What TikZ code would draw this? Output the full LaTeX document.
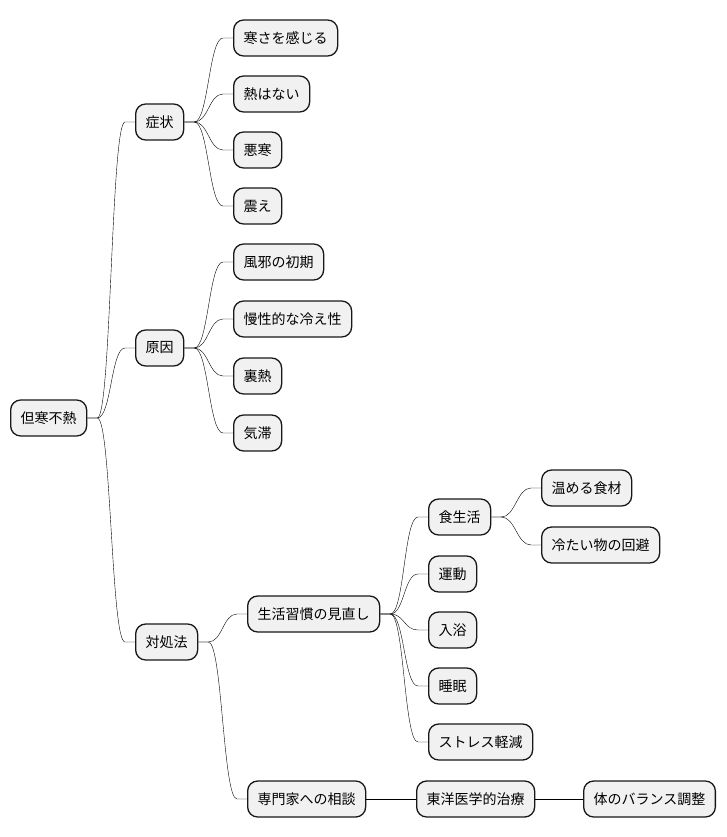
\documentclass[tikz,border=0pt]{standalone}
\usepackage{fontspec}
\newfontfamily\jp{Noto Sans CJK JP}
\definecolor{boxfill}{HTML}{F1F1F1}
\definecolor{boxline}{HTML}{181818}
\begin{document}
\begin{tikzpicture}[x=1pt, y=-1pt,
  box/.style={font={\jp\fontsize{14}{16}\selectfont},draw=boxline,fill=boxfill,rectangle,rounded corners=10pt,minimum height=36pt,inner xsep=10pt,line width=1.3pt,anchor=west},
  link/.style={draw=boxline,line width=1pt,to path={-- ++(10,0) .. controls +(14,0) and +(-14,0) .. ([xshift=-10pt]\tikztotarget) -- (\tikztotarget)}}]

\useasboundingbox (0,0) rectangle (726,837);

\node[box] (0) at (10,418) {但寒不熱};

\node[box] (1) at (135,122) {症状};
\node[box] (11) at (233,38) {寒さを感じる};
\node[box] (12) at (233,94) {熱はない};
\node[box] (13) at (233,150) {悪寒};
\node[box] (14) at (233,206) {震え};

\node[box] (2) at (135,348) {原因};
\node[box] (21) at (233,262) {風邪の初期};
\node[box] (22) at (233,319) {慢性的な冷え性};
\node[box] (23) at (233,376) {裏熱};
\node[box] (24) at (233,433) {気滞};

\node[box] (3) at (135,642) {対処法};
\node[box] (31) at (247,614) {生活習慣の見直し};
\node[box] (311) at (428,517) {食生活};
\node[box] (3111) at (541,488) {温める食材};
\node[box] (3112) at (541,545) {冷たい物の回避};
\node[box] (312) at (428,574) {運動};
\node[box] (313) at (428,630) {入浴};
\node[box] (314) at (428,686) {睡眠};
\node[box] (315) at (428,742) {ストレス軽減};
\node[box] (32) at (247,799) {専門家への相談};
\node[box] (321) at (416,799) {東洋医学的治療};
\node[box] (3211) at (583,799) {体のバランス調整};

\draw (0.east) to[link] (1.west);
\draw (0.east) to[link] (2.west);
\draw (0.east) to[link] (3.west);

\draw (1.east) to[link] (11.west);
\draw (1.east) to[link] (12.west);
\draw (1.east) to[link] (13.west);
\draw (1.east) to[link] (14.west);

\draw (2.east) to[link] (21.west);
\draw (2.east) to[link] (22.west);
\draw (2.east) to[link] (23.west);
\draw (2.east) to[link] (24.west);

\draw (3.east) to[link] (31.west);
\draw (3.east) to[link] (32.west);
\draw (31.east) to[link] (311.west);
\draw (31.east) to[link] (312.west);
\draw (31.east) to[link] (313.west);
\draw (31.east) to[link] (314.west);
\draw (31.east) to[link] (315.west);
\draw (311.east) to[link] (3111.west);
\draw (311.east) to[link] (3112.west);
\draw (32.east) to[link] (321.west);
\draw (321.east) to[link] (3211.west);

\end{tikzpicture}
\end{document}
